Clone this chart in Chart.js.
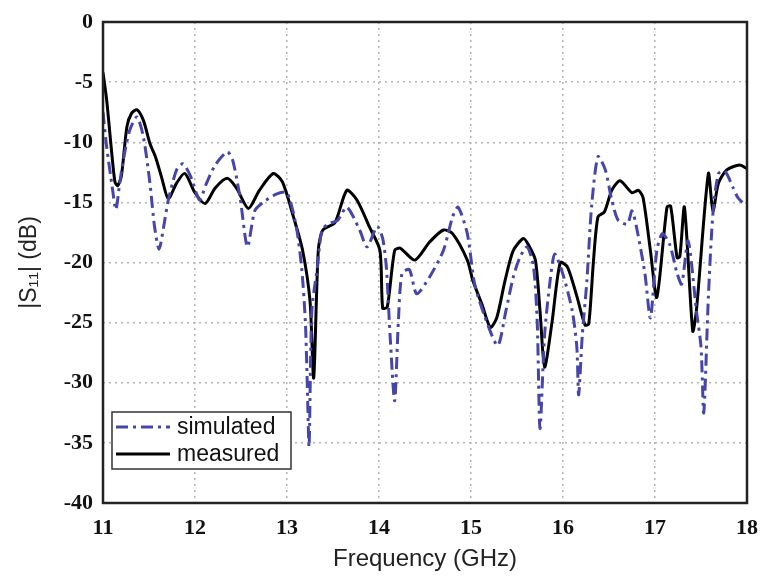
<!DOCTYPE html>
<html>
<head>
<meta charset="utf-8">
<script src="https://cdn.jsdelivr.net/npm/chart.js@4/dist/chart.umd.min.js"></script>
<style>
html,body{margin:0;padding:0;background:#fff;}
#wrap{width:761px;height:580px;}
</style>
</head>
<body>
<div id="wrap"><canvas id="c" width="761" height="580"></canvas></div>
<script>
// ---- data ----
const xTickLabels = [11, 12, 13, 14, 15, 16, 17, 18];
const yTickLabels = [0, -5, -10, -15, -20, -25, -30, -35, -40];
const seriesNames = ['simulated', 'measured'];

const simFreq = [11.00,11.04,11.10,11.14,11.18,11.22,11.29,11.37,11.44,11.51,11.56,11.61,11.66,11.71,11.80,11.87,11.95,12.05,12.12,12.22,12.35,12.41,12.49,12.57,12.65,12.74,12.89,13.00,13.10,13.16,13.20,13.22,13.24,13.27,13.33,13.38,13.45,13.55,13.65,13.79,13.87,13.98,14.04,14.08,14.12,14.17,14.21,14.25,14.33,14.41,14.55,14.70,14.80,14.86,14.96,15.04,15.15,15.29,15.38,15.46,15.53,15.61,15.68,15.72,15.75,15.80,15.86,15.91,16.00,16.10,16.15,16.17,16.21,16.26,16.31,16.38,16.46,16.53,16.60,16.70,16.75,16.80,16.89,16.95,17.02,17.08,17.16,17.24,17.29,17.36,17.45,17.50,17.53,17.58,17.63,17.69,17.76,17.85,17.90,17.95];
const simDb = [-7.5,-10.4,-13.7,-15.6,-13.5,-11.5,-9.0,-7.9,-9.6,-13.4,-17.0,-18.9,-17.0,-14.8,-12.3,-11.8,-12.8,-14.8,-13.5,-11.9,-10.8,-11.5,-14.6,-18.7,-15.7,-15.0,-14.3,-14.2,-17.0,-20.5,-25.0,-30.0,-35.3,-24.0,-20.4,-17.3,-16.8,-16.5,-15.4,-17.3,-18.7,-17.0,-18.0,-20.4,-26.0,-31.5,-25.0,-20.9,-20.6,-22.6,-21.2,-19.0,-16.2,-15.4,-17.6,-21.8,-24.5,-26.9,-24.0,-21.2,-19.6,-18.7,-20.4,-25.0,-33.8,-26.0,-21.5,-19.3,-21.0,-24.0,-27.0,-31.0,-26.0,-21.5,-15.4,-11.2,-12.3,-14.8,-16.5,-16.8,-15.7,-17.1,-20.9,-24.6,-19.0,-17.6,-18.5,-20.9,-21.8,-18.2,-24.0,-27.0,-32.5,-22.9,-15.9,-12.6,-12.4,-13.8,-14.6,-15.0];

const measFreq = [11.00,11.04,11.09,11.13,11.16,11.20,11.26,11.31,11.37,11.44,11.51,11.57,11.64,11.71,11.80,11.89,12.00,12.11,12.22,12.35,12.45,12.58,12.70,12.85,12.95,13.07,13.17,13.25,13.29,13.34,13.39,13.52,13.65,13.76,13.90,14.01,14.04,14.09,14.17,14.23,14.39,14.55,14.70,14.80,14.96,15.02,15.12,15.21,15.28,15.37,15.46,15.57,15.63,15.70,15.75,15.80,15.88,15.97,16.05,16.15,16.24,16.28,16.33,16.38,16.45,16.53,16.62,16.75,16.82,16.87,16.95,17.02,17.13,17.17,17.24,17.27,17.32,17.41,17.45,17.58,17.63,17.69,17.78,17.92,18.00];
const measDb = [-4.2,-6.5,-10.5,-13.3,-13.6,-12.8,-8.7,-7.6,-7.3,-8.2,-10.1,-11.2,-13.0,-14.7,-13.4,-12.6,-14.2,-15.1,-13.8,-13.0,-13.8,-15.5,-14.0,-12.6,-13.3,-16.2,-19.0,-23.2,-29.6,-19.0,-17.3,-16.7,-14.0,-14.8,-17.1,-19.0,-23.8,-23.7,-19.0,-18.8,-19.8,-18.3,-17.3,-17.6,-19.8,-21.5,-23.5,-25.4,-24.6,-21.5,-19.0,-18.0,-18.6,-19.8,-24.0,-28.7,-25.0,-20.0,-20.4,-22.8,-25.2,-25.1,-20.0,-16.2,-15.8,-14.0,-13.2,-14.2,-14.0,-14.6,-19.0,-22.9,-15.4,-15.3,-19.6,-19.5,-15.4,-25.7,-24.0,-12.6,-15.7,-13.4,-12.3,-11.9,-12.2];

const simColor = 'rgb(70,70,170)';
const measColor = '#000000';

const toPts = (xs, ys) => xs.map((x, i) => ({x: x, y: ys[i]}));

// frame around plot area
const framePlugin = {
  id: 'frame',
  afterDatasetsDraw(chart) {
    const {ctx, chartArea: a} = chart;
    ctx.save();
    ctx.strokeStyle = '#222';
    ctx.lineWidth = 2.5;
    ctx.strokeRect(a.left, a.top, a.right - a.left, a.bottom - a.top);
    ctx.restore();
  }
};

// legend inside plot, lower-left
const legendPlugin = {
  id: 'insideLegend',
  afterDraw(chart) {
    const {ctx, chartArea: a} = chart;
    const ds = chart.data.datasets;
    const bx = a.left + 9, by = a.bottom - 91, bw = 179, bh = 57;
    ctx.save();
    ctx.fillStyle = '#fff';
    ctx.fillRect(bx, by, bw, bh);
    ctx.strokeStyle = '#333';
    ctx.lineWidth = 1.5;
    ctx.strokeRect(bx, by, bw, bh);
    ctx.font = '23px "Liberation Sans", Arial, sans-serif';
    ctx.textBaseline = 'middle';
    ds.forEach((d, i) => {
      const yy = by + 15 + i * 27;
      ctx.beginPath();
      ctx.setLineDash(d.borderDash || []);
      ctx.strokeStyle = d.borderColor;
      ctx.lineWidth = d.borderWidth;
      ctx.moveTo(bx + 4, yy);
      ctx.lineTo(bx + 58, yy);
      ctx.stroke();
      ctx.setLineDash([]);
      ctx.fillStyle = '#111';
      ctx.fillText(d.label, bx + 65, yy + 1);
    });
    ctx.restore();
  }
};

new Chart(document.getElementById('c'), {
  type: 'line',
  data: {
    datasets: [
      {
        label: seriesNames[0],
        data: toPts(simFreq, simDb),
        borderColor: simColor,
        borderWidth: 3,
        borderDash: [12, 5, 3, 5],
        pointRadius: 0,
        tension: 0.25,
        fill: false
      },
      {
        label: seriesNames[1],
        data: toPts(measFreq, measDb),
        borderColor: measColor,
        borderWidth: 3,
        pointRadius: 0,
        tension: 0.25,
        fill: false
      }
    ]
  },
  options: {
    responsive: false,
    animation: false,
    devicePixelRatio: 1,
    layout: { padding: { top: 22, right: 14, left: 0, bottom: 0 } },
    plugins: {
      legend: { display: false },
      tooltip: { enabled: false }
    },
    scales: {
      x: {
        type: 'linear',
        min: xTickLabels[0],
        max: xTickLabels[xTickLabels.length - 1],
        afterBuildTicks(s) { s.ticks = xTickLabels.map(v => ({value: v})); },
        afterFit(s) { s.height = 77; s.paddingLeft = 0; s.paddingRight = 0; },
        grid: { color: '#b4b4b4', lineWidth: 1.5, drawTicks: false },
        border: { display: false, dash: [2, 4] },
        ticks: {
          padding: 12,
          color: '#111',
          font: { family: '"Liberation Serif", "Times New Roman", serif', size: 22, weight: 'bold' }
        },
        title: {
          display: true,
          text: 'Frequency (GHz)',
          color: '#222',
          font: { family: '"Liberation Sans", Arial, sans-serif', size: 24 },
          padding: { top: 0, bottom: 6 }
        }
      },
      y: {
        type: 'linear',
        min: yTickLabels[yTickLabels.length - 1],
        max: yTickLabels[0],
        afterBuildTicks(s) { s.ticks = yTickLabels.slice().reverse().map(v => ({value: v})); },
        afterFit(s) { s.width = 103; s.paddingTop = 0; s.paddingBottom = 0; },
        grid: { color: '#b4b4b4', lineWidth: 1.5, drawTicks: false },
        border: { display: false, dash: [2, 4] },
        ticks: {
          padding: 10,
          color: '#111',
          font: { family: '"Liberation Serif", "Times New Roman", serif', size: 22, weight: 'bold' }
        },
        title: {
          display: true,
          text: '|S\u2081\u2081| (dB)',
          color: '#222',
          font: { family: '"Liberation Sans", "DejaVu Sans", sans-serif', size: 23 },
          padding: { top: 16, bottom: 0 }
        }
      }
    }
  },
  plugins: [framePlugin, legendPlugin]
});
</script>
</body>
</html>
